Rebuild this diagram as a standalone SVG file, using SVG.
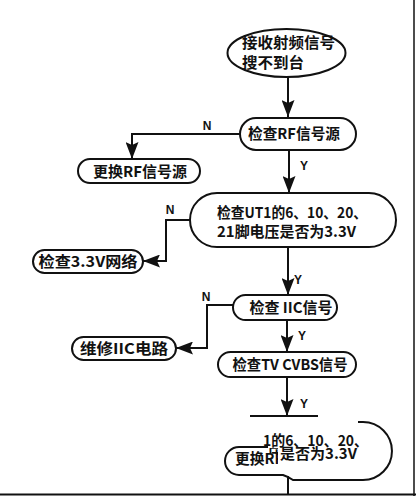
<svg xmlns="http://www.w3.org/2000/svg" width="416" height="496" viewBox="0 0 416 496">
<style>
.n{fill:#fff;stroke:#111;stroke-width:2}
.t{font-family:"Noto Sans CJK SC","Noto Sans",sans-serif;font-weight:700;font-size:15px;fill:#111}
.l{font-family:"Liberation Sans",Arial,sans-serif;font-weight:700;font-size:12px;fill:#111}
.c{fill:none;stroke:#111;stroke-width:2}
</style>
<defs>
<marker id="ah" markerUnits="userSpaceOnUse" markerWidth="18" markerHeight="13" refX="17" refY="6.5" orient="auto">
<path d="M0,0 L17,6.5 L0,13 L3,6.5 z" fill="#111"/>
</marker>
<clipPath id="clipRF"><rect x="225" y="448" width="53" height="30"/></clipPath>
<clipPath id="clipYa"><rect x="269" y="448" width="9" height="6"/></clipPath>
</defs>
<rect width="416" height="496" fill="#fff"/>

<g id="connectors">
<path class="c" d="M288,77 V117" marker-end="url(#ah)"/>
<path class="c" d="M240,134 H132 V159" marker-end="url(#ah)"/>
<path class="c" d="M289,150 V193" marker-end="url(#ah)"/>
<path class="c" d="M190,220 H166 V261 H143" marker-end="url(#ah)"/>
<path class="c" d="M288,247 V295" marker-end="url(#ah)"/>
<path class="c" d="M233,305 H207 V348 H176" marker-end="url(#ah)"/>
<path class="c" d="M287,320 V352" marker-end="url(#ah)"/>
<path class="c" d="M287,377 V416" marker-end="url(#ah)"/>
<path class="c" d="M288,476 V494"/>
<text class="l" x="207" y="130" text-anchor="middle">N</text>
<text class="l" x="304" y="170" text-anchor="middle">Y</text>
<text class="l" x="170" y="214" text-anchor="middle">N</text>
<text class="l" x="298" y="284" text-anchor="middle">Y</text>
<text class="l" x="206" y="301" text-anchor="middle">N</text>
<text class="l" x="302" y="340" text-anchor="middle">Y</text>
<text class="l" x="304" y="408" text-anchor="middle">Y</text>
</g>

<g id="start">
<ellipse class="n" cx="286.5" cy="53" rx="59" ry="24"/>
<text class="t" x="242" y="48" font-size="16" textLength="93" lengthAdjust="spacingAndGlyphs">接收射频信号</text>
<text class="t" x="242" y="68" font-size="16" textLength="62" lengthAdjust="spacingAndGlyphs">搜不到台</text>
</g>

<g id="checkRF">
<rect class="n" x="240" y="118" width="116" height="32" rx="16"/>
<text class="t" x="294" y="139" text-anchor="middle" textLength="92" lengthAdjust="spacingAndGlyphs">检查RF信号源</text>
</g>

<g id="replaceRF">
<rect class="n" x="78" y="159" width="122" height="24" rx="12"/>
<text class="t" x="140" y="176.5" text-anchor="middle" textLength="94" lengthAdjust="spacingAndGlyphs">更换RF信号源</text>
</g>

<g id="checkUT1">
<rect class="n" x="190" y="193" width="206" height="54" rx="27"/>
<text class="t" x="217" y="218" textLength="150" lengthAdjust="spacingAndGlyphs">检查UT1的6、10、20、</text>
<text class="t" x="217" y="237" textLength="139" lengthAdjust="spacingAndGlyphs">21脚电压是否为3.3V</text>
</g>

<g id="check33">
<rect class="n" x="33" y="250" width="110" height="23" rx="11.5"/>
<text class="t" x="88" y="266.5" text-anchor="middle" textLength="99" lengthAdjust="spacingAndGlyphs">检查3.3V网络</text>
</g>

<g id="checkIIC">
<rect class="n" x="233" y="295" width="104" height="25" rx="12.5"/>
<text class="t" x="291" y="312.5" text-anchor="middle" textLength="83" lengthAdjust="spacingAndGlyphs">检查 IIC信号</text>
</g>

<g id="repairIIC">
<rect class="n" x="72" y="337" width="104" height="23" rx="11.5"/>
<text class="t" x="124" y="353.5" text-anchor="middle" textLength="88" lengthAdjust="spacingAndGlyphs">维修IIC电路</text>
</g>

<g id="checkCVBS">
<rect class="n" x="218" y="352" width="138" height="25" rx="12.5"/>
<text class="t" x="290" y="370" text-anchor="middle" textLength="115" lengthAdjust="spacingAndGlyphs">检查TV CVBS信号</text>
</g>

<g id="glitch">
<path class="c" d="M250,416 H318"/>
<path class="c" d="M358,422 H363 A29,29 0 0 1 363,480 H293 Q289,477 283,475 H239 A14,14 0 0 1 239,447 H268"/>
<text class="t" x="263" y="446" font-size="13" textLength="105" lengthAdjust="spacingAndGlyphs">1的6、10、20、</text>
<text class="t" x="268" y="459" font-size="13" clip-path="url(#clipYa)">压</text>
<text class="t" x="280" y="458.5" font-size="13.5" textLength="77" lengthAdjust="spacingAndGlyphs">是否为3.3V</text>
<text class="t" x="235" y="464" font-size="14" clip-path="url(#clipRF)" textLength="48" lengthAdjust="spacingAndGlyphs">更换RF</text>
</g>

<g id="frame">
<path d="M414,0 V496" stroke="#111" stroke-width="1.5"/>
<path d="M0,494.5 H416" stroke="#111" stroke-width="2"/>
</g>
</svg>
